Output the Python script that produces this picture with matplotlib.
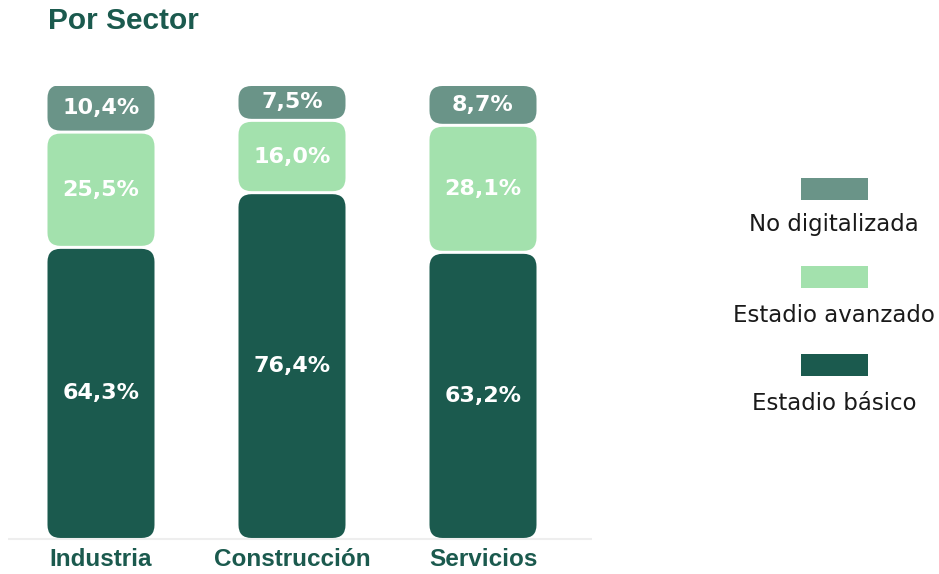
import matplotlib.pyplot as plt
from matplotlib.patches import FancyBboxPatch, Rectangle

categories = ["Industria", "Construcción", "Servicios"]
basico = [64.3, 76.4, 63.2]
avanzado = [25.5, 16.0, 28.1]
no_digital = [10.4, 7.5, 8.7]

series = [
    ("Estadio básico", basico, "#1b5a4e"),
    ("Estadio avanzado", avanzado, "#a3e1ad"),
    ("No digitalizada", no_digital, "#6a9488"),
]

W, H = 939, 574
fig = plt.figure(figsize=(W / 100, H / 100), dpi=100)

# axes placed in pixels: baseline y=538, 100% at y=86, x from 8 to 592
x_px_per_unit = 191.0
left_unit = (8 - 101) / x_px_per_unit
right_unit = (592 - 101) / x_px_per_unit
ax = fig.add_axes([8 / W, (H - 538) / H, (592 - 8) / W, (538 - 86) / H])
ax.set_xlim(left_unit, right_unit)
ax.set_ylim(0, 100)
ax.axis("off")

y_px_per_unit = (538 - 86) / 100.0
aspect = x_px_per_unit / y_px_per_unit
radius = 13 / x_px_per_unit
gap = 3 / y_px_per_unit
width = 107 / x_px_per_unit

for i, cat in enumerate(categories):
    bottom = 0
    for k, (name, vals, color) in enumerate(series):
        v = vals[i]
        y0 = bottom + (gap / 2 if k > 0 else 0)
        y1 = bottom + v - (gap / 2 if k < len(series) - 1 else 0)
        if k == len(series) - 1:
            y1 = max(y1, 100)
        patch = FancyBboxPatch((i - width / 2, y0), width, y1 - y0,
                               boxstyle=f"round,pad=0,rounding_size={radius}",
                               mutation_aspect=aspect, fc=color, ec="none")
        ax.add_patch(patch)
        ax.text(i, (y0 + y1) / 2, f"{v:.1f}%".replace(".", ","), color="white",
                ha="center", va="center", fontsize=16, fontweight="bold",
                family="DejaVu Sans")
        bottom += v

# baseline
ax.plot([left_unit, right_unit], [-0.3, -0.3], color="#eeeeee", lw=1.5,
        clip_on=False, solid_capstyle="butt")

for i, cat in enumerate(categories):
    fig.text((101 + i * x_px_per_unit) / W, 1 - 560 / H, cat, ha="center",
             va="center", fontsize=17.5, fontweight="bold", color="#1b5a4e",
             family="Liberation Sans")

fig.text(48 / W, 1 - 21 / H, "Por Sector", ha="left", va="center",
         fontsize=21.5, fontweight="bold", color="#1b5a4e", family="Liberation Sans")

# legend
leg_y = [189, 277, 365]
lab_y = [224, 315, 404]
for (name, vals, color), sy, ly in zip(series[::-1], leg_y, lab_y):
    fig.patches.append(Rectangle((801 / W, 1 - (sy + 11) / H), 67 / W, 22 / H,
                                 transform=fig.transFigure, fc=color, ec="none"))
    fig.text(834 / W, 1 - ly / H, name, ha="center", va="center",
             fontsize=16.5, color="#1a1a1a", family="DejaVu Sans")

fig.savefig("out.png", dpi=100)
